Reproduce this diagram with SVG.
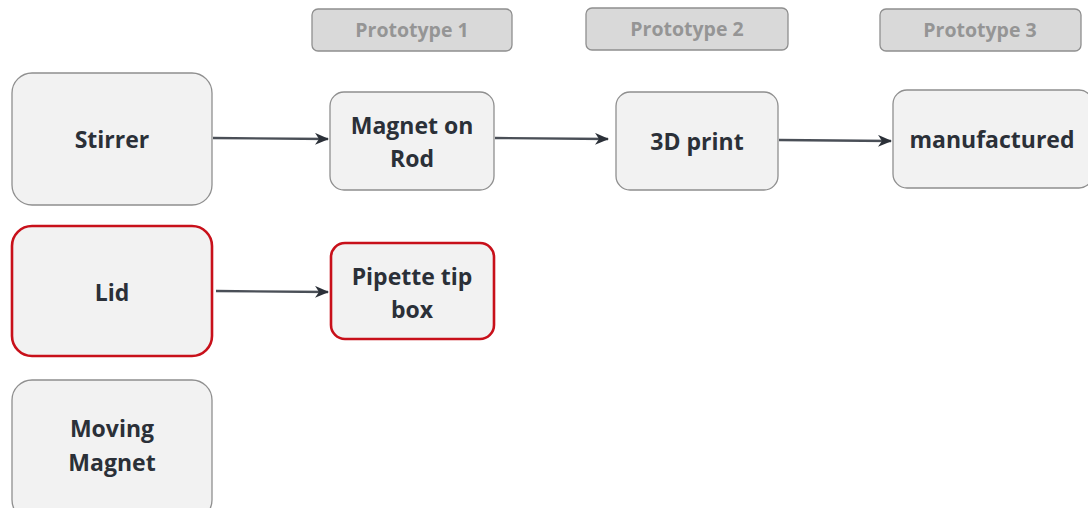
<svg xmlns="http://www.w3.org/2000/svg" width="1088" height="508" viewBox="0 0 1088 508">
  <style>
    .node rect { fill: #f2f2f2; stroke: #8f8f8f; stroke-width: 1.3; }
    .node.red rect { stroke: #c8101a; stroke-width: 2.6; }
    .node text { font-family: "Open Sans", "Liberation Sans", sans-serif; font-weight: bold; font-size: 23px; fill: #2b3038; text-anchor: middle; }
    .phase rect { fill: #d9d9d9; stroke: #8f8f8f; stroke-width: 1.3; }
    .phase text { font-family: "Open Sans", "Liberation Sans", sans-serif; font-weight: bold; font-size: 19.5px; fill: #959595; text-anchor: middle; }
    .edge { stroke: #4a4f57; stroke-width: 2.4; fill: none; marker-end: url(#arrow); }
  </style>
  <defs>
    <marker id="arrow" viewBox="0 0 14 12" refX="13" refY="6" markerWidth="14" markerHeight="12" markerUnits="userSpaceOnUse" orient="auto">
      <path d="M0,0 L14,6 L0,12 L4,6 Z" fill="#2b3038"/>
    </marker>
  </defs>

  <!-- phase headers -->
  <g id="phase1" class="phase">
    <rect x="312" y="9" width="200" height="42" rx="6"/>
    <text x="412" y="37">Prototype 1</text>
  </g>
  <g id="phase2" class="phase">
    <rect x="586" y="8" width="202" height="42" rx="6"/>
    <text x="687" y="36">Prototype 2</text>
  </g>
  <g id="phase3" class="phase">
    <rect x="880" y="9" width="201" height="42" rx="6"/>
    <text x="980" y="37">Prototype 3</text>
  </g>

  <!-- component column -->
  <g id="stirrer" class="node">
    <rect x="12" y="73" width="200" height="132" rx="20"/>
    <text x="112" y="148">Stirrer</text>
  </g>
  <g id="lid" class="node red">
    <rect x="12" y="226" width="200" height="130" rx="20"/>
    <text x="112" y="301">Lid</text>
  </g>
  <g id="moving-magnet" class="node">
    <rect x="12" y="380" width="200" height="140" rx="20"/>
    <text x="112" y="437">Moving</text>
    <text x="112" y="471">Magnet</text>
  </g>

  <!-- prototype stages -->
  <g id="magnet-on-rod" class="node">
    <rect x="330" y="92" width="164" height="98" rx="14"/>
    <text x="412" y="134">Magnet on</text>
    <text x="412" y="167">Rod</text>
  </g>
  <g id="print-3d" class="node">
    <rect x="616" y="92" width="162" height="98" rx="14"/>
    <text x="697" y="150">3D print</text>
  </g>
  <g id="manufactured" class="node">
    <rect x="893" y="90" width="200" height="98" rx="14"/>
    <text x="992" y="148">manufactured</text>
  </g>
  <g id="pipette-tip-box" class="node red">
    <rect x="331" y="243" width="163" height="96" rx="14"/>
    <text x="412" y="285">Pipette tip</text>
    <text x="412" y="318">box</text>
  </g>

  <!-- connectors -->
  <g id="connectors">
    <line class="edge" x1="213" y1="138" x2="328" y2="139"/>
    <line class="edge" x1="495" y1="138" x2="608" y2="139"/>
    <line class="edge" x1="779" y1="140" x2="891" y2="141"/>
    <line class="edge" x1="216" y1="291" x2="328" y2="292"/>
  </g>
</svg>
